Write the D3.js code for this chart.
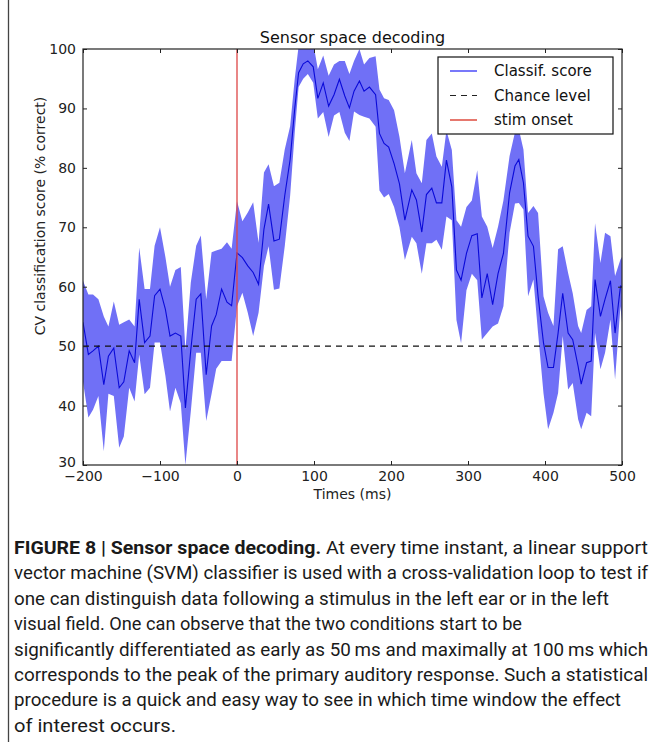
<!DOCTYPE html>
<html>
<head>
<meta charset="utf-8">
<script src="https://cdn.jsdelivr.net/npm/d3@7"></script>
<style>
  body { margin: 0; background: #fff; }
  svg { display: block; }
</style>
</head>
<body>
<svg width="662" height="742"></svg>
<script>
// time points (ms) and decoding score
const times = [-200,-193,-187,-180,-173,-167,-160,-153,-147,-140,-133,-127,-120,-113,-107,-100,-93,-87,-80,-73,-67,-60,-53,-47,-40,-33,-27,-20,-13,-7,
  0,7,14,21,28,35,41,48,55,62,69,75,80,86,92,99,105,112,119,126,133,140,146,152,159,165,172,180,185,191,197,204,211,218,227,233,240,246,253,259,266,272,279,285,291,298,305,312,318,325,332,339,346,
  354,361,366,372,378,385,391,398,404,411,417,423,430,436,443,447,454,460,465,472,478,485,491,498,500]
const meanScore = [54,48.6,49.2,50,43.5,48.3,49.7,43,44,49.2,47.2,57.9,50.6,51.7,58.5,59.6,56.2,51.7,52.2,51.7,39.6,49.4,57.9,58.8,45.2,53.4,55.3,59.6,57.4,56.8,
  65.7,64.9,63.5,62.4,60.4,69.7,73.9,67.7,68,75.3,81.4,90,96,97.5,98,97,91.7,94.3,90.4,92.3,94.9,92.1,90.1,92.9,94.6,92.9,93.6,92.3,85.8,84.1,83.5,80.7,77.3,71.2,76.3,74.6,69.2,75.5,76.6,74.1,74.1,81.3,76.8,62.8,61.1,65.6,68.6,68.9,58.1,62.2,57,62.2,65.6,
  75.8,80.3,81.4,77.5,68.5,66.8,58.4,50.6,46.4,46.4,52.2,58.9,52.2,51.1,46.6,43.6,47.2,47.5,61.2,55,57.9,61,52.2,60.1,60]
const lowScore = [44,38,39.3,41.6,32.3,42,41.6,32.9,34.8,43,40.7,48.6,41.9,43,50.6,50.6,45,39,43,40.4,30,39,48.9,48.9,37.4,42,46.2,47.5,47.5,47.5,
  56.7,59,55.6,51.7,55.6,63.5,66.8,59.5,59.7,66.8,75.3,86,93.6,95,95.8,94.3,88.3,89.4,85.2,88.8,89.4,85.9,84.5,89.5,88.9,88.6,88.3,86.9,76.2,75,75.6,73.4,70,64.5,68.4,67.3,62.2,67.3,67.3,67.9,66.2,71.8,71.2,54.4,50.5,59.4,62.2,61.1,51.1,52.2,53.3,53.8,56.7,
  69.1,74,74.1,73,58.4,61.2,52.2,42.1,36,38.8,42.1,51.7,42.7,43.8,37.7,36,38.8,38.2,52.2,46.1,48.9,54.5,44.4,56.7,54]
const highScore = [61,58.7,58.7,57.9,55,53.3,57.5,53.6,54,54.5,53.3,66.6,59.6,59.6,66.9,70,65,60,62.8,63.3,49.4,60.7,66.9,68.6,57.9,65.8,66.1,66.4,67.5,66.4,
  74.4,71,72.5,74.2,67.4,79.2,80.6,76.9,77.5,83.1,87,95,100.5,102,102,101,96.6,98.9,95.5,97.4,98,98,95.8,98,100,97.4,98.5,98.8,93.2,91.7,91.4,89.7,85.2,79.1,84.7,79.1,77.4,84.7,85.8,81.9,80.2,86.3,83,71.2,70.1,73.4,74.5,79.6,71.8,70.1,66.5,70.1,74.5,
  82,86,86.5,83.1,72.4,73.6,72.4,58.4,55.6,53.4,66.3,66.8,62.3,58.9,53.4,52.2,56.1,56.7,70.7,64,69.1,68.5,61.8,64.6,65]
const chanceLevel = 50
const xTicks = [-200,-100,0,100,200,300,400,500]
const yTicks = [30,40,50,60,70,80,90,100]
const legendItems = ['Classif. score','Chance level','stim onset']
const caption = [
  [['FIGURE 8 | Sensor space decoding.', true], [' At every time instant, a linear support', false]],
  [['vector machine (SVM) classifier is used with a cross-validation loop to test if', false]],
  [['one can distinguish data following a stimulus in the left ear or in the left', false]],
  [['visual field. One can observe that the two conditions start to be', false]],
  [['significantly differentiated as early as 50\u2009ms and maximally at 100\u2009ms which', false]],
  [['corresponds to the peak of the primary auditory response. Such a statistical', false]],
  [['procedure is a quick and easy way to see in which time window the effect', false]],
  [['of interest occurs.', false]]
]
const captionWidths = [634,634,595,508,634,634,607,162]

const svg = d3.select('svg'),
    margin = {top:49,left:83},
    width = 539,
    height = 416,
    x = d3.scaleLinear().domain([-200, 500]).range([0, width]),
    y = d3.scaleLinear().domain([30, 100]).range([height, 0]),
    font = 'DejaVu Sans, Bitstream Vera Sans, sans-serif'

// left edge of the figure frame
svg.append('line')
    .attr('x1', 8.5).attr('x2', 8.5).attr('y1', 0).attr('y2', 742)
    .attr('stroke', '#444').attr('stroke-width', 1.3)

const chart = svg.append('g')
    .attr('transform', 'translate(' + margin.left + ',' + margin.top + ')')

chart.append('clipPath').attr('id', 'plotclip')
  .append('rect').attr('width', width).attr('height', height)

const data = times.map((t, i) => ({t: t, m: meanScore[i], lo: lowScore[i], hi: highScore[i]}))
const plot = chart.append('g').attr('clip-path', 'url(#plotclip)')

plot.append('path')
    .datum(data)
    .attr('fill', 'rgb(112,112,246)')
    .attr('d', d3.area().x(d => x(d.t)).y0(d => y(d.lo)).y1(d => y(d.hi)))

plot.append('path')
    .datum(data)
    .attr('fill', 'none')
    .attr('stroke', '#0a0ad8')
    .attr('stroke-width', 1.1)
    .attr('d', d3.line().x(d => x(d.t)).y(d => y(d.m)))

plot.append('line')
    .attr('x1', 0).attr('x2', width)
    .attr('y1', y(chanceLevel)).attr('y2', y(chanceLevel))
    .attr('stroke', '#111').attr('stroke-width', 1.2)
    .attr('stroke-dasharray', '6,5')

plot.append('line')
    .attr('x1', x(0)).attr('x2', x(0))
    .attr('y1', 0).attr('y2', height)
    .attr('stroke', 'rgb(222,70,70)').attr('stroke-width', 1.3)

// axes, ticks inward on every side
const tick = 4
const xAxis = chart.append('g')
    .attr('transform', 'translate(0,' + height + ')')
    .call(d3.axisBottom(x).tickValues(xTicks).tickSizeInner(-tick).tickSizeOuter(0).tickPadding(8)
      .tickFormat(d => d < 0 ? '\u2212' + Math.abs(d) : d))
chart.append('g')
    .call(d3.axisTop(x).tickValues(xTicks).tickSizeInner(-tick).tickSizeOuter(0).tickFormat(''))
const yAxis = chart.append('g')
    .call(d3.axisLeft(y).tickValues(yTicks).tickSizeInner(-tick).tickSizeOuter(0).tickPadding(7))
chart.append('g')
    .attr('transform', 'translate(' + width + ',0)')
    .call(d3.axisRight(y).tickValues(yTicks).tickSizeInner(-tick).tickSizeOuter(0).tickFormat(''))

chart.selectAll('.domain').remove()
chart.selectAll('.tick line').attr('stroke', '#222')
chart.selectAll('.tick text').attr('font-family', font).attr('font-size', 14).attr('fill', '#222')
xAxis.selectAll('.tick text').attr('dy', '0.6em')
// lowest y label sits just above the first x label, as in the figure
yAxis.selectAll('.tick text').filter(d => d === 30).attr('dy', '0.1em')

chart.append('rect')
    .attr('width', width).attr('height', height)
    .attr('fill', 'none').attr('stroke', '#222').attr('stroke-width', 1.2)

chart.append('text')
    .attr('x', width / 2).attr('y', -6)
    .attr('text-anchor', 'middle')
    .attr('font-family', font).attr('font-size', 16).attr('fill', '#111')
    .text('Sensor space decoding')

chart.append('text')
    .attr('x', width / 2).attr('y', height + 34)
    .attr('text-anchor', 'middle')
    .attr('font-family', font).attr('font-size', 14).attr('fill', '#222')
    .text('Times (ms)')

chart.append('text')
    .attr('transform', 'translate(-38,' + (height / 2 - 41) + ') rotate(-90)')
    .attr('text-anchor', 'middle')
    .attr('font-family', font).attr('font-size', 14).attr('fill', '#222')
    .text('CV classification score (% correct)')

// legend
const legend = chart.append('g').attr('transform', 'translate(355,8)')
legend.append('rect')
    .attr('width', 175).attr('height', 77)
    .attr('fill', '#fff').attr('stroke', '#111').attr('stroke-width', 1.2)
const sample = [
  {stroke:'rgb(120,120,250)', dash:null, w:2},
  {stroke:'#222', dash:'6,5', w:1.2},
  {stroke:'rgb(230,120,110)', dash:null, w:2}
]
legendItems.forEach((name, i) => {
  const row = legend.append('g').attr('transform', 'translate(0,' + (14 + i * 24.5) + ')')
  row.append('line')
    .attr('x1', 12).attr('x2', 39)
    .attr('stroke', sample[i].stroke).attr('stroke-width', sample[i].w)
    .attr('stroke-dasharray', sample[i].dash)
  row.append('text')
    .attr('x', 56).attr('y', 5)
    .attr('font-family', font).attr('font-size', 15).attr('fill', '#111')
    .text(name)
})

// caption
const cap = svg.append('g')
caption.forEach((parts, i) => {
  const t = cap.append('text')
    .attr('x', 14).attr('y', 554 + i * 25.4)
    .attr('font-family', 'Liberation Sans Narrow, Roboto, Liberation Sans, sans-serif')
    .attr('font-size', 18.5).attr('fill', '#1a1a1a')
    .attr('textLength', captionWidths[i]).attr('lengthAdjust', 'spacingAndGlyphs')
  parts.forEach(([s, bold]) => {
    t.append('tspan').attr('font-weight', bold ? 'bold' : 'normal').text(s)
  })
})
</script>
</body>
</html>
